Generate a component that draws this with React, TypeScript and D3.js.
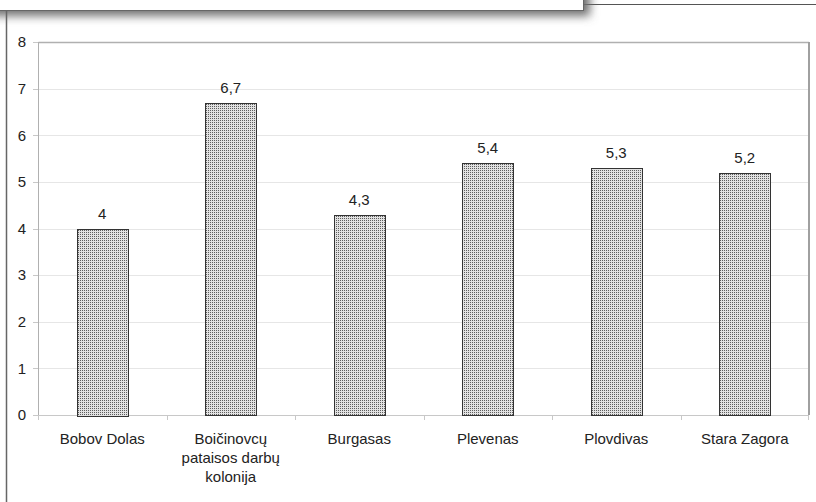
import React from "react";
import * as d3 from "d3";

const categories = ["Bobov Dolas", "Boičinovcų pataisos darbų kolonija", "Burgasas", "Plevenas", "Plovdivas", "Stara Zagora"];
const categoryLines = [["Bobov Dolas"], ["Boičinovcų", "pataisos darbų", "kolonija"], ["Burgasas"], ["Plevenas"], ["Plovdivas"], ["Stara Zagora"]];
const values = [4, 6.7, 4.3, 5.4, 5.3, 5.2];
const valueLabels = ["4", "6,7", "4,3", "5,4", "5,3", "5,2"];
const yTicks = [0, 1, 2, 3, 4, 5, 6, 7, 8];

const W = 816, H = 502;
const M = { left: 38, right: 809, top: 42, bottom: 415 };
const FONT = "'Liberation Sans', Arial, sans-serif";
const FS = 15;

export default function App() {
  const x = d3.scaleBand<string>().domain(categories).range([M.left, M.right]).paddingInner(0.6).paddingOuter(0.3);
  const band = d3.scaleBand<string>().domain(categories).range([M.left, M.right]);
  const y = d3.scaleLinear().domain([0, 8]).range([M.bottom, M.top]);

  return (
    <svg width={W} height={H} style={{ position: "absolute", left: 0, top: 0, background: "#fff" }}>
      <defs>
        <pattern id="dots" width="2" height="2" patternUnits="userSpaceOnUse">
          <rect width="2" height="2" fill="#e2e2e2" />
          <rect width="1" height="1" fill="#5e5e5e" />
        </pattern>
        <filter id="blur" filterUnits="userSpaceOnUse" x={-40} y={-40} width={700} height={90}>
          <feGaussianBlur stdDeviation="5" />
        </filter>
      </defs>
      {/* top decoration */}
      <line x1={583} y1={4.5} x2={816} y2={4.5} stroke="#555" strokeWidth={1} />
      <rect x={-10} y={-10} width={600} height={26} fill="#707070" filter="url(#blur)" />
      <rect x={-2} y={-2} width={585.5} height={12.5} fill="#fff" stroke="#666" strokeWidth={1} />
      <line x1={6.5} y1={10} x2={6.5} y2={H} stroke="#666" strokeWidth={1.5} />

      {/* grid */}
      {yTicks.map(t => (
        <line key={"g" + t} x1={M.left} x2={M.right} y1={Math.round(y(t)) + 0.5} y2={Math.round(y(t)) + 0.5} stroke="#e6e6e6" />
      ))}
      {/* plot frame */}
      <line x1={M.left + 0.5} y1={M.top + 0.5} x2={M.right} y2={M.top + 0.5} stroke="#b0b0b0" strokeWidth={1.5} />
      <line x1={M.right} y1={M.top} x2={M.right} y2={M.bottom} stroke="#a0a0a0" strokeWidth={2} />
      <line x1={M.left + 0.5} y1={M.top} x2={M.left + 0.5} y2={M.bottom} stroke="#b0b0b0" />
      <line x1={M.left} y1={M.bottom + 0.5} x2={M.right} y2={M.bottom + 0.5} stroke="#c8c8c8" />

      {/* y ticks */}
      {yTicks.map(t => (
        <g key={"t" + t}>
          <line x1={M.left - 5} x2={M.left} y1={Math.round(y(t)) + 0.5} y2={Math.round(y(t)) + 0.5} stroke="#c8c8c8" />
          <text x={26} y={y(t)} dy="0.35em" textAnchor="end" fontFamily={FONT} fontSize={FS} fill="#222">{t}</text>
        </g>
      ))}
      {/* x ticks */}
      {categories.map((c, i) => (
        <line key={"xt" + i} x1={Math.round(band(c)!) + 0.5} x2={Math.round(band(c)!) + 0.5} y1={M.bottom} y2={M.bottom + 5} stroke="#c8c8c8" />
      ))}
      <line x1={M.right - 0.5} x2={M.right - 0.5} y1={M.bottom} y2={M.bottom + 5} stroke="#c8c8c8" />

      {/* bars */}
      {categories.map((c, i) => (
        <g key={"b" + i}>
          <rect x={Math.round(x(c)!) + 0.5} y={Math.round(y(values[i])) + 0.5} width={Math.round(x.bandwidth())} height={Math.round(y(0) - y(values[i]))}
            fill="url(#dots)" stroke="#333" strokeWidth={1} />
          <text x={x(c)! + x.bandwidth() / 2} y={y(values[i]) - 10} textAnchor="middle" fontFamily={FONT} fontSize={FS} fill="#222">{valueLabels[i]}</text>
        </g>
      ))}

      {/* category labels */}
      {categories.map((c, i) => (
        <text key={"c" + i} x={band(c)! + band.bandwidth() / 2} y={444} textAnchor="middle" fontFamily={FONT} fontSize={FS} fill="#222">
          {categoryLines[i].map((l, j) => (
            <tspan key={j} x={band(c)! + band.bandwidth() / 2} dy={j === 0 ? 0 : 19}>{l}</tspan>
          ))}
        </text>
      ))}
    </svg>
  );
}
